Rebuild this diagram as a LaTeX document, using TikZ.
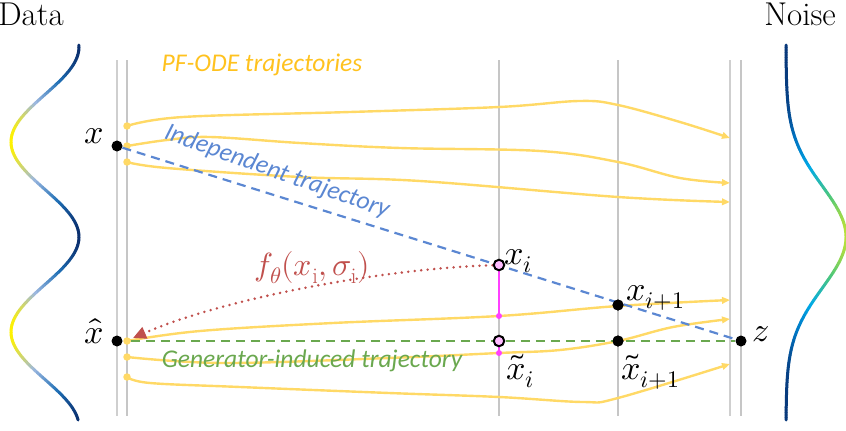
\documentclass[tikz,border=0pt]{standalone}
\usepackage{fontspec}
\usepackage{unicode-math}
\usetikzlibrary{arrows.meta}
\newfontfamily\carl{Carlito}
\definecolor{trajY}{HTML}{FFD966}
\definecolor{pfY}{HTML}{FFC21F}
\definecolor{indB}{HTML}{5B87D2}
\definecolor{genG}{HTML}{6AA84F}
\definecolor{fRed}{HTML}{C0504D}
\definecolor{magL}{HTML}{FF40FF}
\definecolor{dY}{HTML}{FFF200}
\definecolor{dL}{HTML}{9DB8E0}
\definecolor{dB}{HTML}{1F6FB5}
\definecolor{dN}{HTML}{0A2F6E}
\definecolor{nN}{HTML}{08387A}
\definecolor{nB}{HTML}{0072C0}
\definecolor{nC}{HTML}{00AAE8}
\definecolor{nG}{HTML}{50C878}
\definecolor{nY}{HTML}{B8E03C}
\tikzset{
  gline/.style={draw=gray!38, line width=1.4pt},
  glinedark/.style={draw=gray!45, line width=1.1pt},
  traj/.style={draw=trajY, line width=2.4pt, -{Triangle[length=8pt,width=6.5pt]}},
  sdot/.style={circle, fill=trajY, inner sep=0pt, minimum size=7.5pt},
  bdot/.style={circle, fill=black, inner sep=0pt, minimum size=11pt},
  odot/.style={circle, draw=black, fill=magL!35, line width=2pt, inner sep=0pt, minimum size=10.5pt},
  mdot/.style={circle, fill=magL, inner sep=0pt, minimum size=6pt},
  lab/.style={inner sep=0pt, font=\fontsize{34}{40}\selectfont},
  ttl/.style={inner sep=0pt, font=\fontsize{33}{38}\selectfont},
  itl/.style={inner sep=0pt, font=\carl\itshape\fontsize{25.5}{30}\selectfont},
}
\begin{document}
\begin{tikzpicture}[x=1pt,y=-1pt]
\useasboundingbox (0,0) rectangle (846,431);
% titles
\node[ttl] (tdata) at (31,14) {Data};
\node[ttl] (tnoise) at (800,14) {Noise};
% gray vertical lines
\foreach \xx in {117,730}{\draw[gline] (\xx,60) -- (\xx,416);}
\foreach \xx in {127,499,618,741}{\draw[glinedark] (\xx,60) -- (\xx,416);}
% data curve
\foreach \i in {0,...,149}{
  \pgfmathsetmacro\ya{45+\i*2.5}
  \pgfmathsetmacro\yb{\ya+2.5}
  \pgfmathsetmacro\xa{45-34*cos(1.894737*(\ya-142))}
  \pgfmathsetmacro\xb{45-34*cos(1.894737*(\yb-142))}
  \pgfmathsetmacro\t{max(0,min(1,((\xa+\xb)/2-11)/68))}
  \pgfmathtruncatemacro\seg{\t<0.35 ? 0 : (\t<0.7 ? 1 : 2)}
  \ifcase\seg
    \pgfmathsetmacro\p{100*(1-\t/0.35)}\colorlet{cc}{dY!\p!dL}
  \or
    \pgfmathsetmacro\p{100*(1-(\t-0.35)/0.35)}\colorlet{cc}{dL!\p!dB}
  \else
    \pgfmathsetmacro\p{100*(1-(\t-0.7)/0.3)}\colorlet{cc}{dB!\p!dN}
  \fi
  \draw[cc, line width=3pt, line cap=round] (\xa,\ya) -- (\xb,\yb);
}
% noise curve
\foreach \i in {0,...,149}{
  \pgfmathsetmacro\ya{45+\i*2.5}
  \pgfmathsetmacro\yb{\ya+2.5}
  \pgfmathsetmacro\da{(\ya-237)/72}
  \pgfmathsetmacro\db{(\yb-237)/72}
  \pgfmathsetmacro\xa{786+60*exp(-\da*\da)}
  \pgfmathsetmacro\xb{786+60*exp(-\db*\db)}
  \pgfmathsetmacro\t{max(0,min(1,((\xa+\xb)/2-786)/60))}
  \pgfmathtruncatemacro\seg{\t<0.15 ? 0 : (\t<0.4 ? 1 : (\t<0.75 ? 2 : 3))}
  \ifcase\seg
    \pgfmathsetmacro\p{100*(1-\t/0.15)}\colorlet{cc}{nN!\p!nB}
  \or
    \pgfmathsetmacro\p{100*(1-(\t-0.15)/0.25)}\colorlet{cc}{nB!\p!nC}
  \or
    \pgfmathsetmacro\p{100*(1-(\t-0.4)/0.35)}\colorlet{cc}{nC!\p!nG}
  \else
    \pgfmathsetmacro\p{100*(1-(\t-0.75)/0.25)}\colorlet{cc}{nG!\p!nY}
  \fi
  \draw[cc, line width=3pt, line cap=round] (\xa,\ya) -- (\xb,\yb);
}
% PF-ODE trajectories
\draw[traj] plot[smooth, tension=0.6] coordinates {(127,126) (183,117) (350,112) (499,107) (579,101) (618,105) (680,122) (730,138)};
\draw[traj] plot[smooth, tension=0.6] coordinates {(127,146) (167,140) (210,137) (300,143) (400,148) (540,151) (618,162) (680,178) (730,183)};
\draw[traj] plot[smooth, tension=0.6] coordinates {(127,162) (167,168) (300,177) (420,181) (618,197) (730,202)};
\draw[traj] plot[smooth, tension=0.6] coordinates {(127,341) (200,331) (333,323) (499,316) (618,306) (730,300)};
\draw[traj] plot[smooth, tension=0.6] coordinates {(127,357) (224,363) (389,358) (499,353) (560,350) (618,341) (673,327) (730,319)};
\draw[traj] plot[smooth, tension=0.6] coordinates {(127,377) (150,383) (240,387) (389,393) (499,397) (583,402) (618,398) (730,364)};
\foreach \yy/\nm in {126/s1,146/s2,162/s3,341/s4,357/s5,377/s6}{\node[sdot] (\nm) at (127,\yy) {};}
% points
\node[bdot] (x) at (117,146) {};
\node[bdot] (xh) at (117,341) {};
\node[bdot] (z) at (741,341) {};
\coordinate (xi) at (499,265);
\coordinate (xti) at (499,341);
\node[bdot] (xip) at (618,305) {};
\node[bdot] (xtip) at (618,341) {};
\coordinate (m1) at (499,316);
\coordinate (m2) at (499,353);
\coordinate (fend) at (133,338);
% independent (blue dashed)
\draw[indB, line width=2.2pt, dash pattern=on 9pt off 6pt] (x) -- (z);
% generator-induced (green dashed)
\draw[genG, line width=2.2pt, dash pattern=on 9pt off 6pt] (s4) -- (z);
% magenta links
\draw[magL, line width=2pt] (xi) -- (m1);
\draw[magL, line width=2pt] (xti) -- (m2);
\node[mdot] (md1) at (m1) {};
\node[mdot] (md2) at (m2) {};
% red dotted
\draw[fRed, line width=2.8pt, line cap=round, dash pattern=on 0pt off 6.5pt, -{Triangle[length=13pt,width=12pt]}] (xi) .. controls (380,268) and (220,300) .. (fend);
% open circles
\node[odot] (xio) at (xi) {};
\node[odot] (xtio) at (xti) {};
\node[bdot] at (xip) {};
\node[bdot] at (xtip) {};
% labels
\node[lab, anchor=base west] (lx) at (84,143) {$x$};
\node[lab, anchor=base west] (lxh) at (84,343) {$\hat{x}$};
\node[lab, anchor=base west] (lxi) at (504,264) {$x_i$};
\node[lab, anchor=base west] (lxip) at (626,300) {$x_{i+1}$};
\node[lab, anchor=base west] (lxti) at (506,379) {$\tilde{x}_i$};
\node[lab, anchor=base west] (lxtip) at (621,379) {$\tilde{x}_{i+1}$};
\node[lab, anchor=base west] (lz) at (752,341) {$z$};
\node[inner sep=0pt, text=fRed, font=\fontsize{32}{38}\selectfont] (lf) at (312,268) {$f_\theta(x_\mathrm{i},\sigma_\mathrm{i})$};
\node[itl, text=pfY] (lpf) at (262,65) {PF-ODE trajectories};
\node[itl, text=indB, rotate=-19.5] (lind) at (277,172) {Independent trajectory};
\node[itl, text=genG] (lgen) at (312,361) {Generator-induced trajectory};
\end{tikzpicture}
\end{document}
